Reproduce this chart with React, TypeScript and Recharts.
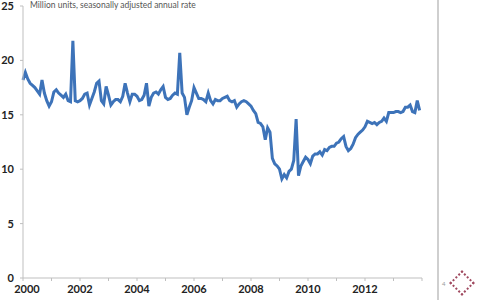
import { LineChart, Line, XAxis, YAxis } from 'recharts';

const startYear = 2000;

const sales2000 = [18.2, 18.9, 18.3, 17.9, 17.7, 17.5, 17.2, 16.9, 18.2, 17.0, 16.3, 15.8];
const sales2001 = [16.2, 17.1, 17.3, 17.0, 16.8, 16.6, 16.9, 16.3, 16.2, 21.8, 16.3, 16.2];
const sales2002 = [16.3, 16.5, 16.9, 17.0, 15.9, 16.5, 17.1, 17.9, 18.1, 16.3, 16.0, 17.6];
const sales2003 = [16.8, 15.9, 16.2, 16.4, 16.4, 16.2, 16.7, 17.9, 17.0, 16.2, 16.9, 16.9];
const sales2004 = [16.7, 16.3, 16.4, 16.8, 17.9, 15.8, 16.6, 17.0, 17.1, 16.9, 17.3, 17.6];
const sales2005 = [16.6, 16.4, 16.5, 16.8, 17.0, 16.9, 20.7, 17.0, 16.6, 15.0, 15.7, 16.3];
const sales2006 = [17.5, 17.0, 16.5, 16.5, 16.4, 16.2, 17.0, 16.3, 16.0, 16.4, 16.3, 16.3];
const sales2007 = [16.5, 16.6, 16.7, 16.3, 16.2, 16.3, 15.7, 16.0, 16.2, 16.3, 16.2, 16.0];
const sales2008 = [15.8, 15.4, 15.1, 14.3, 14.2, 13.9, 12.7, 13.8, 13.4, 11.0, 10.5, 10.3];
const sales2009 = [10.0, 9.1, 9.5, 9.2, 9.8, 10.0, 10.8, 14.6, 9.4, 10.3, 10.7, 11.1];
const sales2010 = [10.9, 10.5, 11.2, 11.4, 11.4, 11.6, 11.3, 11.8, 11.7, 12.0, 12.1, 12.1];
const sales2011 = [12.4, 12.5, 12.8, 13.0, 12.1, 11.7, 11.9, 12.3, 12.9, 13.2, 13.4, 13.6];
const sales2012 = [13.9, 14.4, 14.3, 14.2, 14.3, 14.1, 14.3, 14.4, 14.7, 14.4, 15.2, 15.2];
const sales2013 = [15.2, 15.3, 15.3, 15.2, 15.3, 15.7, 15.7, 15.9, 15.3, 15.2, 16.3, 15.4];

const yearTicks = [2000, 2001, 2002, 2003, 2004, 2005, 2006, 2007, 2008, 2009, 2010, 2011, 2012, 2013, 2014];
const labelledYears = [2000, 2002, 2004, 2006, 2008, 2010, 2012];
const valueTicks = [0, 5, 10, 15, 20, 25];

const allSales = [
  sales2000, sales2001, sales2002, sales2003, sales2004, sales2005, sales2006,
  sales2007, sales2008, sales2009, sales2010, sales2011, sales2012, sales2013,
].flat();

const data = allSales.map((v, i) => ({ t: startYear + i / 12, saar: v }));

const tickStyle = { fontSize: 11, fill: '#222', fontFamily: 'Lato', fontWeight: 700 };

// excel nudges the first year label right so it doesn't clip
function YearTick({ x, y, payload }: any) {
  const v = payload.value;
  if (!labelledYears.includes(v)) return null;
  const nudge = v === 2000 ? 4 : 0;
  return (
    <text x={x + nudge} y={y + 9} textAnchor="middle" {...tickStyle}>
      {v}
    </text>
  );
}

export default function App() {
  return (
    <div style={{ position: 'absolute', left: 0, top: 0, width: 480, height: 300, background: '#fff' }}>
      <LineChart width={480} height={300} data={data} margin={{ top: 6, right: 58, left: 0, bottom: 2 }}>
        <XAxis
          dataKey="t"
          type="number"
          domain={[2000, 2014]}
          ticks={yearTicks}
          stroke="#bfbfbf"
          tickSize={3}
          tickMargin={3}
          height={20}
          tick={<YearTick />}
          interval={0}
        />
        <YAxis
          domain={[0, 25]}
          ticks={valueTicks}
          width={23}
          stroke="#bfbfbf"
          tickSize={3}
          tickMargin={6}
          tick={tickStyle}
        />
        <Line
          type="linear"
          dataKey="saar"
          stroke="#3d73b9"
          strokeWidth={3}
          dot={false}
          isAnimationActive={false}
        />
      </LineChart>
      <div
        style={{
          position: 'absolute',
          left: 30,
          top: 0,
          fontFamily: 'Lato',
          fontSize: 8.5,
          lineHeight: '10px',
          color: '#555',
          whiteSpace: 'nowrap',
        }}
      >
        Million units, seasonally adjusted annual rate
      </div>
      <div style={{ position: 'absolute', left: 437, top: 0, width: 2, height: 300, background: '#cfcfcf' }} />
      <div
        style={{
          position: 'absolute',
          left: 442,
          top: 280,
          fontFamily: 'Lato',
          fontSize: 6,
          color: '#999',
        }}
      >
        4
      </div>
      <div
        style={{
          position: 'absolute',
          left: 453,
          top: 274,
          width: 14,
          height: 14,
          transform: 'rotate(45deg)',
          border: '2px dotted #a04a60',
        }}
      />
    </div>
  );
}
